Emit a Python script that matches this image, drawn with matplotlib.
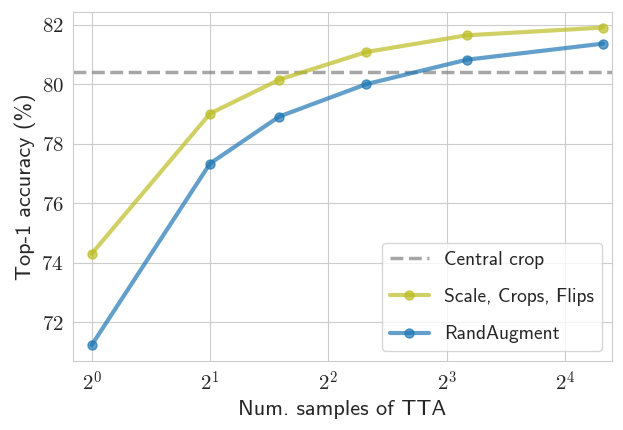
import matplotlib
matplotlib.use("Agg")
import matplotlib.pyplot as plt
import matplotlib.ticker as mticker
import numpy as np
import seaborn as sns

# num. of TTA samples and top-1 accuracy (%)
n_samples = [1, 2, 3, 5, 9, 20]
scale_crops_flips = [74.31, 79.02, 80.16, 81.09, 81.65, 81.91]
rand_augment = [71.24, 77.34, 78.92, 80.01, 80.83, 81.37]
central_crop = 80.42

sns.set_style("whitegrid")
plt.rcParams["font.family"] = ["cmss10", "DejaVu Sans"]
plt.rcParams["mathtext.fontset"] = "cm"
plt.rcParams["axes.unicode_minus"] = False

fig = plt.figure(figsize=(6.23, 4.30), dpi=100)
ax = fig.add_axes([0.1177, 0.1605, 0.8642, 0.8123])

ax.axhline(central_crop, color="gray", alpha=0.7, lw=2.5, ls="--", label="Central crop")
ax.plot(n_samples, scale_crops_flips, "o-", color="#bcbd22", alpha=0.7, lw=3, ms=6.5,
        label="Scale, Crops, Flips")
ax.plot(n_samples, rand_augment, "o-", color="#1f77b4", alpha=0.7, lw=3, ms=6.5,
        label="RandAugment")

ax.set_xscale("log", base=2)
ax.set_xlim(0.898, 21.05)
ax.xaxis.set_major_locator(mticker.LogLocator(base=2))
ax.xaxis.set_major_formatter(
    mticker.FuncFormatter(lambda v, p: r"$2^{%d}$" % round(np.log2(v))))
ax.xaxis.set_minor_locator(mticker.NullLocator())
ax.yaxis.set_major_formatter(mticker.FuncFormatter(lambda v, p: r"$%d$" % v))
ax.tick_params(labelsize=15)

ax.set_xlabel("Num. samples of TTA", fontsize=16)
ax.set_ylabel("Top-1 accuracy (%)", fontsize=16)

leg = ax.legend(loc="lower right", fontsize=14, labelspacing=1.0, frameon=True)
leg.get_frame().set_edgecolor("0.8")

fig.savefig("out.png", dpi=100)
